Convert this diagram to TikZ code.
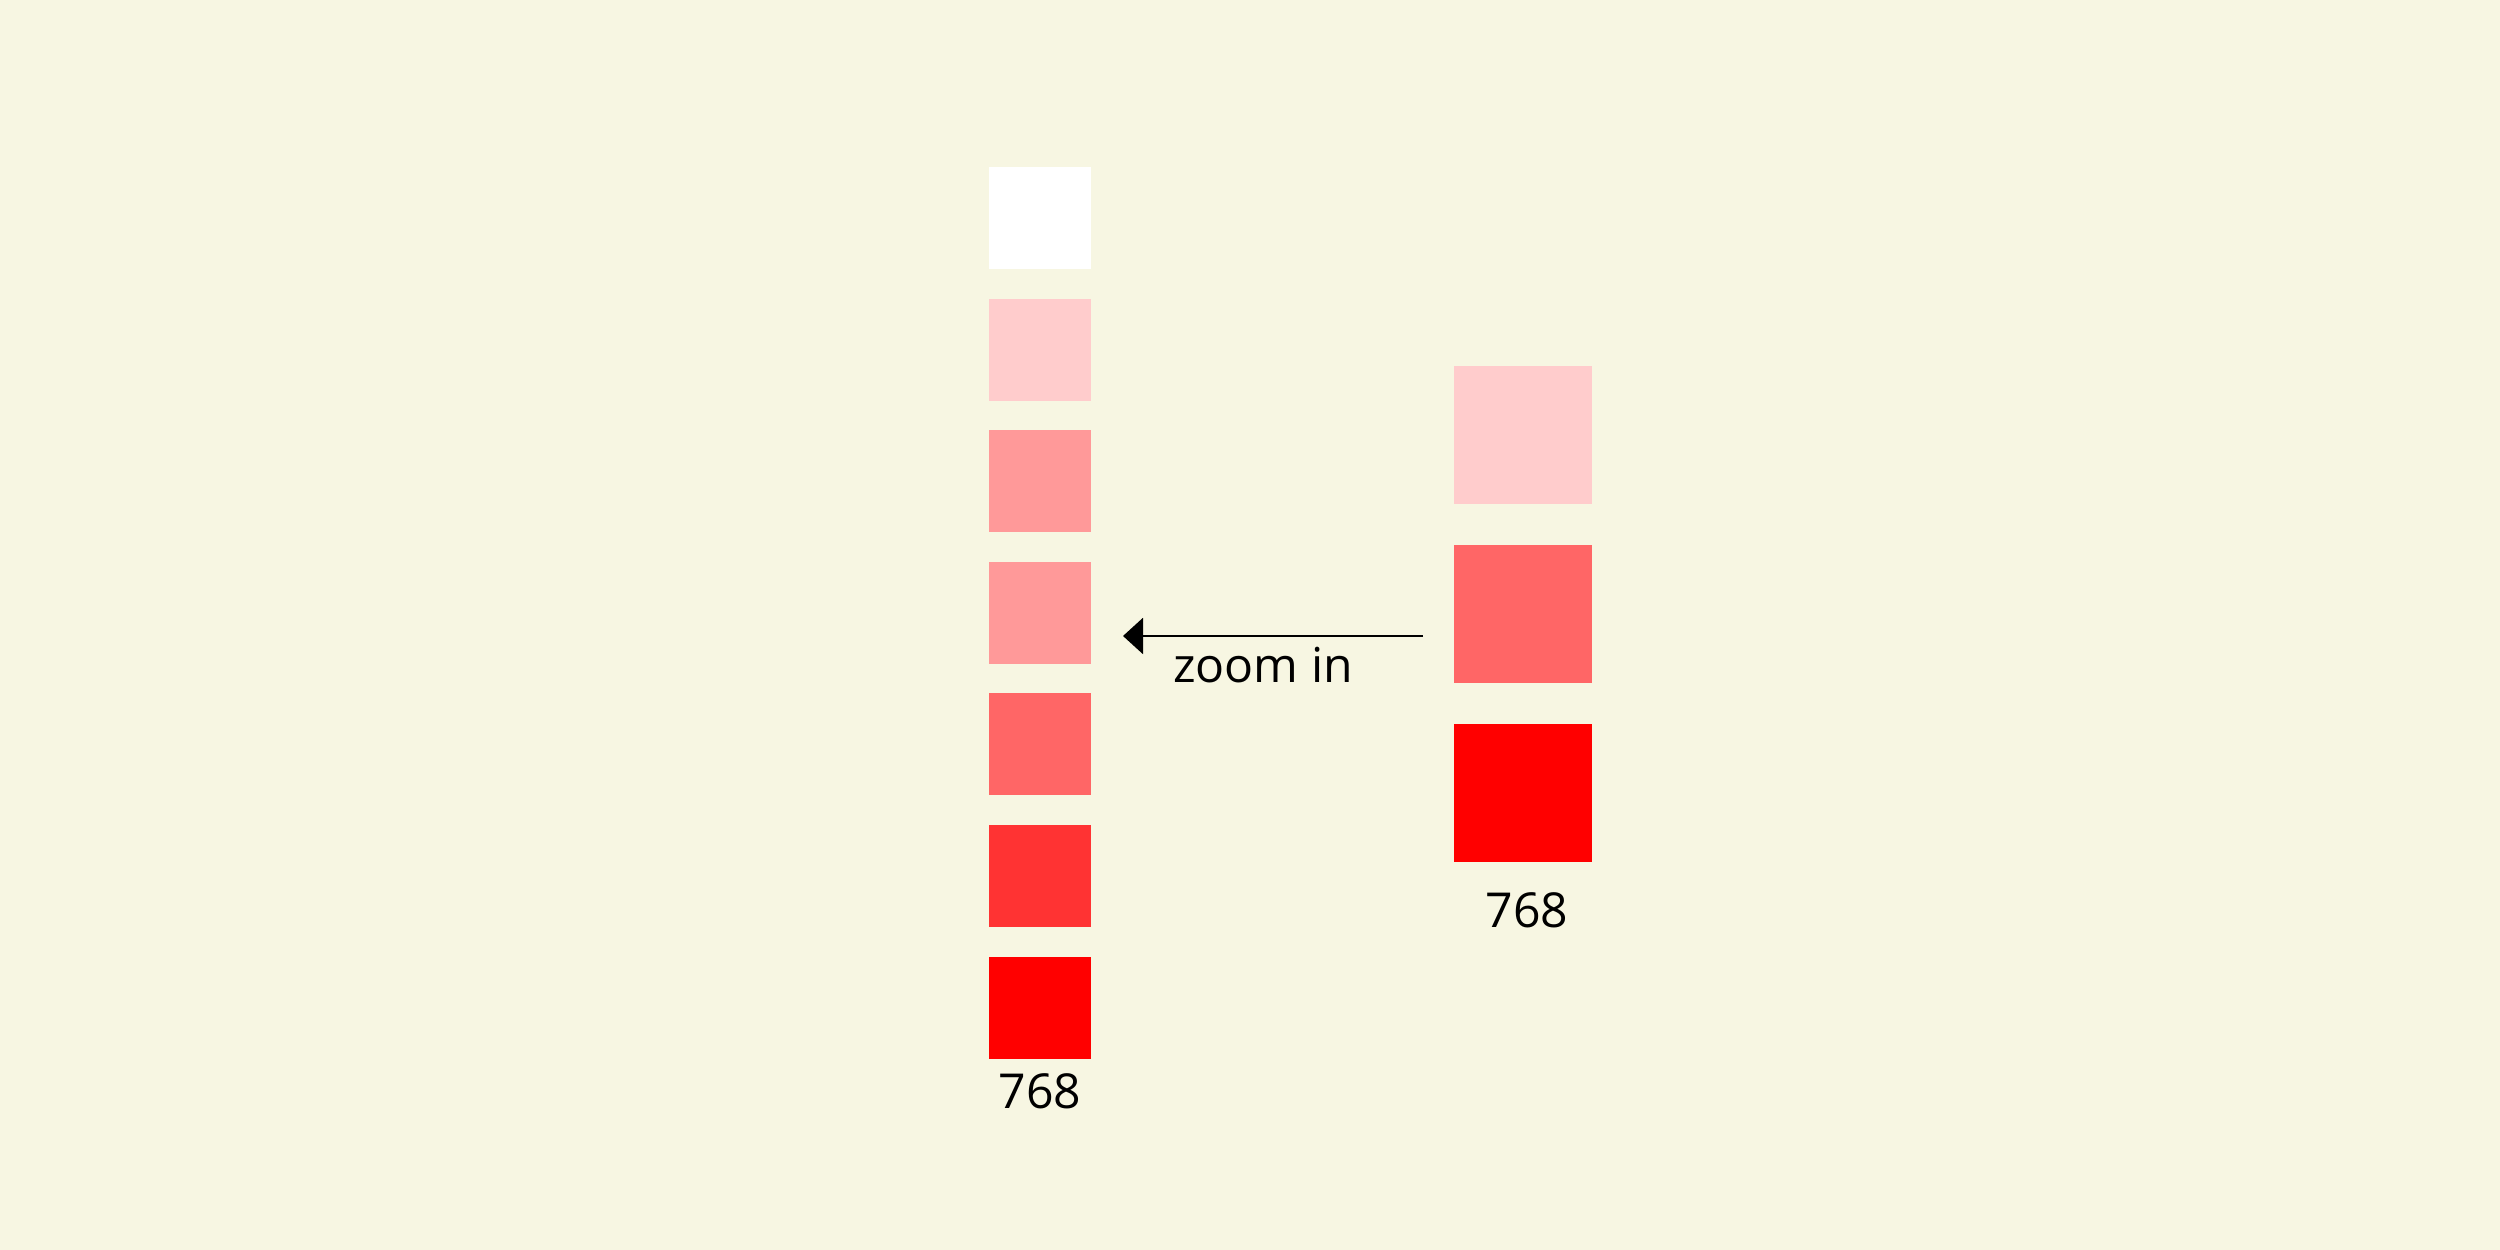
\documentclass[tikz,border=0pt]{standalone}
\usepackage{fontspec}
\setmainfont{Open Sans}
\usetikzlibrary{arrows.meta}
\definecolor{paper}{RGB}{247,246,226}

\begin{document}
\begin{tikzpicture}[>={Triangle[length=2mm,width=3.6mm]},
  cell/.style={draw=none,inner sep=0pt,minimum size=1.02cm},
  bigcell/.style={draw=none,inner sep=0pt,minimum size=1.38cm},
  lbl/.style={font=\fontsize{13.7}{16}\selectfont,anchor=base,inner sep=0pt}]
  % 背景
  \fill[paper] (0,0) rectangle (25,12.5);
  \useasboundingbox (0,0) rectangle (25,12.5);
  % 左列
  \foreach \i/\c in {1/white,2/red!20,3/red!40,4/red!40,5/red!60,6/red!80,7/red}
    \node[cell,fill=\c] (l\i) at (10.40,{10.32-1.316*(\i-1)}) {};
  \node[lbl] (nl) at (10.40,1.41) {768};
  % 右列
  \foreach \i/\c in {1/red!20,2/red!60,3/red}
    \node[bigcell,fill=\c] (r\i) at (15.23,{8.145-1.79*(\i-1)}) {};
  \node[lbl] (nr) at (15.27,3.22) {768};
  % 箭头
  \coordinate (from) at (14.23,6.14);
  \coordinate (to) at (11.23,6.14);
  \draw[->,line width=0.6pt] (from) -- (to);
  \node[lbl] (zoom) at (12.63,5.67) {zoom in};
\end{tikzpicture}
\end{document}
